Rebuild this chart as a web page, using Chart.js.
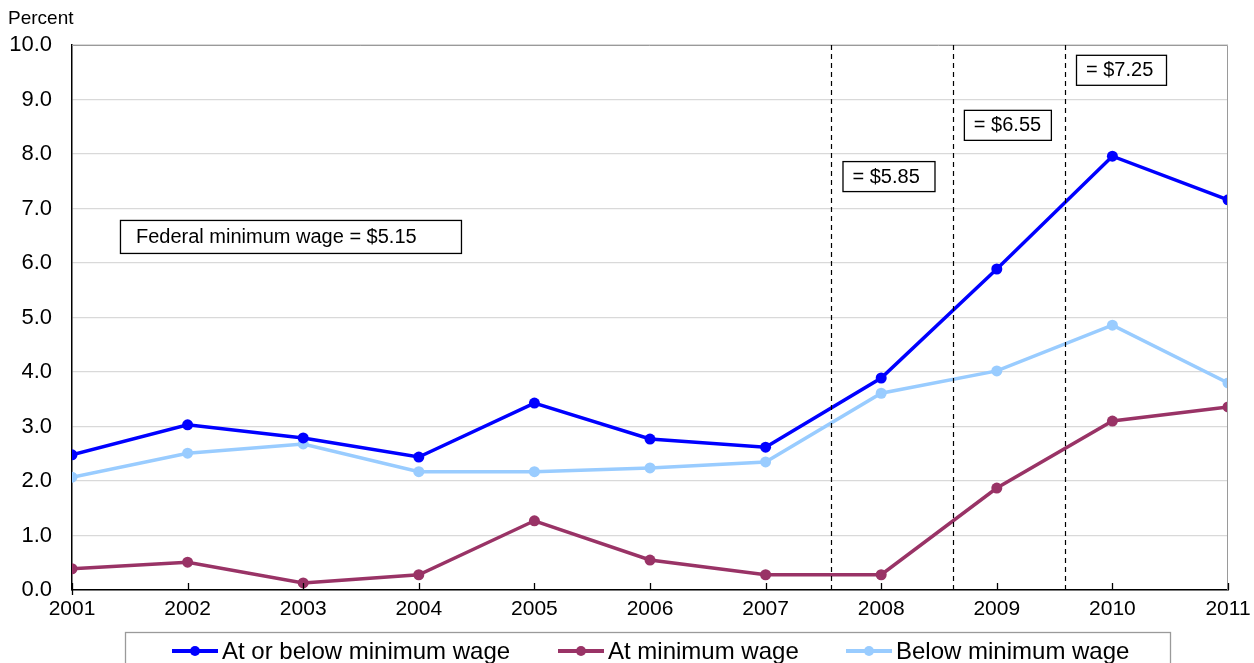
<!DOCTYPE html>
<html>
<head>
<meta charset="utf-8">
<script src="https://cdn.jsdelivr.net/npm/chart.js@4"></script>
<style>
  html, body { margin: 0; padding: 0; background: #fff; }
  canvas { display: block; }
</style>
</head>
<body>
<canvas id="chart" width="1254" height="663"></canvas>
<script>
// Years on the x axis
const years = [2001, 2002, 2003, 2004, 2005, 2006, 2007, 2008, 2009, 2010, 2011];

// Percent of hourly workers
const atOrBelowMin = [2.48, 3.03, 2.79, 2.44, 3.43, 2.77, 2.62, 3.89, 5.89, 7.96, 7.16];
const atMin        = [0.39, 0.51, 0.13, 0.28, 1.27, 0.55, 0.28, 0.28, 1.87, 3.10, 3.36];
const belowMin     = [2.07, 2.51, 2.68, 2.17, 2.17, 2.24, 2.35, 3.61, 4.02, 4.86, 3.80];

// Federal minimum wage increases (fraction of year) and their labels
const wageChangeDates = [2007.57, 2008.62, 2009.59];
const wageChangeLabels = ['= $5.85', '= $6.55', '= $7.25'];
const baseWageLabel = 'Federal minimum wage = $5.15';

const FONT = 'Arial, "Liberation Sans", sans-serif';

function toPoints(values) {
    return years.map((y, i) => ({ x: y, y: values[i] }));
}

// Draws frame, inward ticks, dashed wage lines, label boxes and the legend
const decorPlugin = {
    id: 'decor',
    afterDatasetsDraw(chart) {
        const ctx = chart.ctx;
        const area = chart.chartArea;
        const xs = chart.scales.x;
        const ys = chart.scales.y;
        ctx.save();

        // gray top/right frame
        ctx.strokeStyle = '#9a9a9a';
        ctx.lineWidth = 1;
        ctx.beginPath();
        ctx.moveTo(area.left, area.top + 0.5);
        ctx.lineTo(area.right - 0.5, area.top + 0.5);
        ctx.lineTo(area.right - 0.5, area.bottom);
        ctx.stroke();

        // inward ticks on the x axis
        ctx.strokeStyle = '#000';
        ctx.lineWidth = 1.3;
        years.forEach(y => {
            const px = Math.round(xs.getPixelForValue(y)) + 0.5;
            ctx.beginPath();
            ctx.moveTo(px, area.bottom - 7);
            ctx.lineTo(px, area.bottom + (y === years[0] ? 5 : 0));
            ctx.stroke();
        });

        // dashed lines for wage changes
        ctx.setLineDash([5, 4]);
        ctx.lineWidth = 1.2;
        wageChangeDates.forEach(d => {
            const px = Math.round(xs.getPixelForValue(d)) + 0.5;
            ctx.beginPath();
            ctx.moveTo(px, area.top);
            ctx.lineTo(px, area.bottom);
            ctx.stroke();
        });
        ctx.setLineDash([]);

        // label boxes
        ctx.font = '20px ' + FONT;
        ctx.textBaseline = 'middle';
        ctx.textAlign = 'left';
        const box = (x, y, w, h, text, padL) => {
            ctx.fillStyle = '#fff';
            ctx.fillRect(x, y, w, h);
            ctx.strokeStyle = '#000';
            ctx.lineWidth = 1.3;
            ctx.strokeRect(x + 0.5, y + 0.5, w, h);
            ctx.fillStyle = '#000';
            ctx.fillText(text, x + padL, y + h / 2 + 1);
        };
        box(xs.getPixelForValue(2001.415), ys.getPixelForValue(6.79), 341, 33, baseWageLabel, 16);
        const boxTops = [7.87, 8.81, 9.82];
        const boxWidths = [92, 87, 90];
        wageChangeDates.forEach((d, i) => {
            box(xs.getPixelForValue(d) + 11, ys.getPixelForValue(boxTops[i]), boxWidths[i], 30, wageChangeLabels[i], 10);
        });

        // legend box
        ctx.strokeStyle = '#9a9a9a';
        ctx.lineWidth = 1.3;
        ctx.strokeRect(125.5, 632.5, 1045, 40);
        const legendX = [172, 558, 846];
        ctx.font = '24px ' + FONT;
        chart.data.datasets.forEach((ds, i) => {
            const lx = legendX[i];
            const ly = 651;
            ctx.strokeStyle = ds.borderColor;
            ctx.lineWidth = 4;
            ctx.beginPath();
            ctx.moveTo(lx, ly);
            ctx.lineTo(lx + 46, ly);
            ctx.stroke();
            ctx.fillStyle = ds.borderColor;
            ctx.beginPath();
            ctx.arc(lx + 23, ly, 5, 0, Math.PI * 2);
            ctx.fill();
            ctx.fillStyle = '#000';
            ctx.fillText(ds.label, lx + 50, ly + 1);
        });

        // axis title
        ctx.font = '19px ' + FONT;
        ctx.textBaseline = 'alphabetic';
        ctx.fillText('Percent', 8, 24);
        ctx.restore();
    }
};

const seriesStyle = (label, color, values) => ({
    label: label,
    data: toPoints(values),
    borderColor: color,
    backgroundColor: color,
    borderWidth: 3.5,
    pointRadius: 5.5,
    pointBorderWidth: 0,
    pointBackgroundColor: color,
    tension: 0
});

new Chart(document.getElementById('chart'), {
    type: 'line',
    data: {
        datasets: [
            seriesStyle('At or below minimum wage', '#0000ff', atOrBelowMin),
            seriesStyle('At minimum wage', '#993366', atMin),
            seriesStyle('Below minimum wage', '#99ccff', belowMin)
        ]
    },
    options: {
        responsive: false,
        animation: false,
        layout: { padding: { top: 45, right: 26, left: 0, bottom: 0 } },
        plugins: { legend: { display: false }, tooltip: { enabled: false } },
        scales: {
            x: {
                type: 'linear',
                min: 2001,
                max: 2011,
                afterFit: s => { s.height = 73; s.paddingRight = 0; s.paddingLeft = 0; },
                afterBuildTicks: s => { s.ticks = years.map(v => ({ value: v })); },
                grid: { display: false, drawTicks: false },
                border: { color: '#000', width: 1.5 },
                ticks: {
                    color: '#000',
                    font: { size: 21, family: FONT },
                    padding: 7,
                    maxRotation: 0,
                    autoSkip: false,
                    callback: v => String(v)
                }
            },
            y: {
                min: 0,
                max: 10,
                afterFit: s => { s.width = 72; },
                grid: { color: '#d9d9d9', lineWidth: 1.3, drawTicks: false },
                border: { color: '#000', width: 1.5 },
                ticks: {
                    stepSize: 1,
                    color: '#000',
                    font: { size: 22, family: FONT },
                    padding: 20,
                    callback: v => v.toFixed(1)
                }
            }
        }
    },
    plugins: [decorPlugin]
});
</script>
</body>
</html>
